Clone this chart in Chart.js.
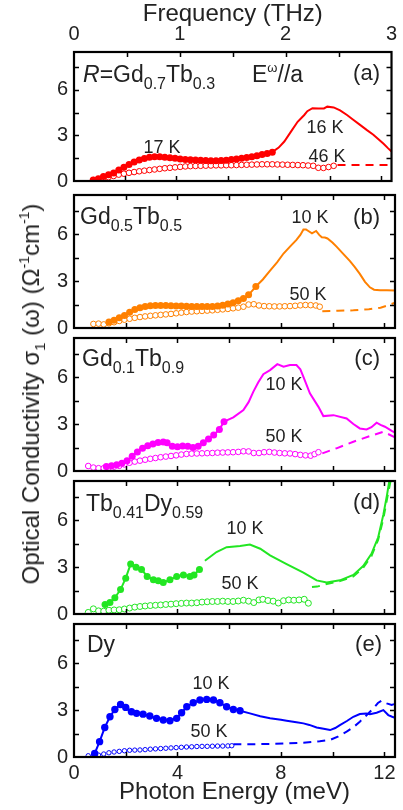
<!DOCTYPE html>
<html>
<head>
<meta charset="utf-8">
<script src="https://cdn.jsdelivr.net/npm/chart.js@4.4.0/dist/chart.umd.min.js"></script>
<style>
body { margin: 0; background: #fff; width: 403px; height: 810px; overflow: hidden; position: relative; font-family: "Liberation Sans", Arial, sans-serif; color: #222; }
canvas { position: absolute; left: 0; }
.lbl { position: absolute; white-space: nowrap; line-height: 1; }
.sb { font-size: 16px; position: relative; top: 7px; }
.k { font-size: 18px; transform: translateX(-50%); }
.tag { font-size: 22px; }
</style>
</head>
<body>
<canvas id="ca" width="403" height="199" style="top:0px"></canvas>
<canvas id="cb" width="403" height="173" style="top:175px"></canvas>
<canvas id="cc" width="403" height="173" style="top:318px"></canvas>
<canvas id="cd" width="403" height="173" style="top:461px"></canvas>
<canvas id="ce" width="403" height="206" style="top:604px"></canvas>

<div class="lbl" id="ytitle" style="font-size:24px;left:31px;top:394px;transform:translate(-50%,-50%) rotate(-90deg)">Optical Conductivity σ<span style="font-size:15px;position:relative;top:6px">1</span> (ω) (Ω<span style="font-size:14px;position:relative;top:-10px">-1</span>cm<span style="font-size:14px;position:relative;top:-10px">-1</span>)</div>

<div class="lbl tag" style="left:83px;top:63px;font-size:23px"><i>R</i>=Gd<span class="sb">0.7</span>Tb<span class="sb">0.3</span></div>
<div class="lbl tag" style="left:252px;top:63px;font-size:23px">E<span style="font-size:13px;position:relative;top:-10px">ω</span>//a</div>
<div class="lbl tag" style="right:23px;top:62px">(a)</div>
<div class="lbl k" style="left:162px;top:138px">17 K</div>
<div class="lbl k" style="left:325px;top:118px">16 K</div>
<div class="lbl k" style="left:327px;top:147px">46 K</div>

<div class="lbl tag" style="left:80px;top:205px;font-size:23px">Gd<span class="sb">0.5</span>Tb<span class="sb">0.5</span></div>
<div class="lbl tag" style="right:23px;top:206px">(b)</div>
<div class="lbl k" style="left:310px;top:208px">10 K</div>
<div class="lbl k" style="left:308px;top:285px">50 K</div>

<div class="lbl tag" style="left:82px;top:347px;font-size:23px">Gd<span class="sb">0.1</span>Tb<span class="sb">0.9</span></div>
<div class="lbl tag" style="right:23px;top:347px">(c)</div>
<div class="lbl k" style="left:284px;top:375px">10 K</div>
<div class="lbl k" style="left:284px;top:427px">50 K</div>

<div class="lbl tag" style="left:86px;top:492px;font-size:23px">Tb<span class="sb">0.41</span>Dy<span class="sb">0.59</span></div>
<div class="lbl tag" style="right:23px;top:491px">(d)</div>
<div class="lbl k" style="left:245px;top:519px">10 K</div>
<div class="lbl k" style="left:240px;top:574px">50 K</div>

<div class="lbl tag" style="left:87px;top:633px;font-size:23px">Dy</div>
<div class="lbl tag" style="right:21px;top:633px">(e)</div>
<div class="lbl k" style="left:211px;top:674px">10 K</div>
<div class="lbl k" style="left:209px;top:722px">50 K</div>

<script>
const FONT = '"Liberation Sans", Arial, sans-serif';
const INK = '#222';
const xMax = 12.41;        // meV, = 3 THz
const meVperTHz = 4.1357;
const yMax = 8.5;
const xTicks = [0, 4, 8, 12];
const thzTicks = [0, 1, 2, 3];
const yTicks = [0, 3, 6];
const xMarks = [2, 4, 6, 8, 10, 12];
const yMarks = [1.5, 3, 4.5, 6, 7.5];

// (a) R = Gd0.7Tb0.3
const a17K = [[0.75,0.06],[0.95,0.15],[1.15,0.3],[1.35,0.42],[1.55,0.52],[1.75,0.72],[1.95,0.9],[2.15,1.08],[2.35,1.25],[2.55,1.38],[2.75,1.48],[2.95,1.56],[3.15,1.6],[3.35,1.6],[3.55,1.57],[3.75,1.54],[3.95,1.5],[4.15,1.45],[4.35,1.42],[4.55,1.4],[4.75,1.38],[4.95,1.36],[5.15,1.35],[5.35,1.34],[5.55,1.34],[5.75,1.35],[5.95,1.37],[6.15,1.41],[6.35,1.45],[6.55,1.5],[6.75,1.55],[6.95,1.6],[7.15,1.66],[7.35,1.74],[7.55,1.82],[7.75,1.9]];
const a16K = [[7.75,1.9],[8.0,2.2],[8.22,2.6],[8.5,3.3],[8.74,3.9],[9.0,4.35],[9.12,4.6],[9.32,4.8],[9.55,4.78],[9.77,4.78],[9.9,4.9],[10.15,4.85],[10.4,4.65],[10.67,4.35],[10.9,4.05],[11.18,3.7],[11.45,3.35],[11.7,3.05],[11.9,2.75],[12.1,2.45],[12.28,2.15],[12.41,1.95]];
const a46K = [[0.75,0.06],[0.95,0.1],[1.15,0.17],[1.35,0.25],[1.55,0.33],[1.75,0.42],[1.95,0.48],[2.15,0.54],[2.35,0.59],[2.55,0.64],[2.75,0.68],[2.95,0.72],[3.15,0.76],[3.35,0.8],[3.55,0.84],[3.75,0.87],[3.95,0.9],[4.15,0.93],[4.35,0.96],[4.55,0.98],[4.75,0.99],[4.95,1.0],[5.15,1.01],[5.35,1.02],[5.55,1.03],[5.75,1.03],[5.95,1.04],[6.15,1.04],[6.35,1.05],[6.55,1.06],[6.75,1.07],[6.95,1.08],[7.15,1.09],[7.35,1.1],[7.55,1.1],[7.75,1.1],[7.95,1.09],[8.15,1.08],[8.35,1.07],[8.55,1.06],[8.75,1.05],[8.95,1.04],[9.15,1.02],[9.35,1.0],[9.55,0.87],[9.75,0.86],[9.95,0.92],[10.15,1.0]];
const a46Kdash = [[10.3,1.05],[12.41,1.05]];

// (b) Gd0.5Tb0.5
const b10K = [[1.35,0.38],[1.55,0.5],[1.75,0.65],[1.95,0.8],[2.15,1.0],[2.35,1.18],[2.55,1.3],[2.75,1.38],[2.95,1.42],[3.15,1.44],[3.35,1.44],[3.55,1.43],[3.75,1.42],[3.95,1.41],[4.15,1.4],[4.35,1.39],[4.55,1.38],[4.75,1.37],[4.95,1.37],[5.15,1.37],[5.35,1.38],[5.55,1.41],[5.75,1.46],[5.95,1.53],[6.15,1.62],[6.35,1.74],[6.55,1.88],[6.75,2.12],[7.03,2.65]];
const b10Kline = [[7.03,2.65],[7.3,3.1],[7.58,3.67],[7.85,4.2],[8.1,4.76],[8.35,5.2],[8.6,5.63],[8.75,5.95],[8.87,6.3],[8.97,6.3],[9.06,6.2],[9.2,6.05],[9.36,6.2],[9.48,5.95],[9.58,5.8],[9.7,5.78],[9.8,5.72],[10.0,5.45],[10.15,5.2],[10.4,4.75],[10.67,4.28],[10.85,3.9],[11.05,3.46],[11.25,2.95],[11.44,2.6],[11.6,2.45],[11.83,2.42],[12.1,2.42],[12.41,2.4]];
const b50K = [[0.75,0.26],[0.95,0.28],[1.15,0.23],[1.35,0.3],[1.55,0.37],[1.75,0.45],[1.95,0.53],[2.15,0.59],[2.35,0.65],[2.55,0.7],[2.75,0.74],[2.95,0.78],[3.15,0.81],[3.35,0.84],[3.55,0.87],[3.75,0.9],[3.95,0.94],[4.15,0.98],[4.35,1.02],[4.55,1.05],[4.75,1.07],[4.95,1.09],[5.15,1.11],[5.35,1.13],[5.55,1.16],[5.75,1.19],[5.95,1.22],[6.15,1.26],[6.35,1.3],[6.55,1.36],[6.75,1.5],[6.95,1.52],[7.15,1.44],[7.35,1.4],[7.55,1.39],[7.75,1.38],[7.95,1.38],[8.15,1.39],[8.35,1.4],[8.55,1.42],[8.75,1.45],[8.95,1.47],[9.15,1.46],[9.35,1.44],[9.5,1.36]];
const b50Kdash = [[9.6,1.07],[10.2,1.1],[10.8,1.13],[11.4,1.2],[11.85,1.3],[12.15,1.45],[12.41,1.62]];

// (c) Gd0.1Tb0.9
const c10K = [[1.25,0.28],[1.45,0.33],[1.65,0.4],[1.85,0.5],[2.05,0.66],[2.25,0.95],[2.45,1.22],[2.65,1.45],[2.85,1.62],[3.05,1.72],[3.25,1.82],[3.45,1.86],[3.6,1.8],[3.8,1.58],[4.0,1.55],[4.2,1.6],[4.4,1.58],[4.6,1.5],[4.8,1.58],[5.0,1.8],[5.2,2.05],[5.4,2.3],[5.62,2.66],[5.8,3.15]];
const c10Kline = [[5.8,3.15],[6.16,3.43],[6.55,3.9],[6.75,4.4],[6.93,5.06],[7.12,5.65],[7.32,6.19],[7.58,6.45],[7.86,6.83],[8.1,6.66],[8.35,6.77],[8.6,6.77],[8.75,6.5],[8.87,6.02],[9.12,4.96],[9.45,4.1],[9.64,3.51],[10.03,3.57],[10.54,3.36],[10.8,3.0],[11.05,2.72],[11.31,2.66],[11.5,2.8],[11.7,3.09],[11.85,2.95],[12.02,2.83],[12.3,2.55],[12.41,2.45]];
const c50K = [[0.55,0.32],[0.75,0.22],[0.95,0.18],[1.15,0.18],[1.35,0.22],[1.55,0.28],[1.75,0.33],[1.95,0.42],[2.15,0.53],[2.35,0.6],[2.55,0.66],[2.75,0.72],[2.95,0.78],[3.15,0.83],[3.35,0.88],[3.55,0.92],[3.75,0.96],[3.95,1.0],[4.15,1.05],[4.35,1.09],[4.55,1.11],[4.75,1.12],[4.95,1.13],[5.15,1.14],[5.35,1.15],[5.55,1.17],[5.75,1.18],[5.95,1.19],[6.15,1.2],[6.35,1.22],[6.55,1.26],[6.75,1.25],[6.95,1.15],[7.15,1.15],[7.35,1.2],[7.55,1.22],[7.75,1.18],[7.95,1.15],[8.15,1.13],[8.35,1.12],[8.55,1.08],[8.75,1.03],[8.95,1.0],[9.15,0.98],[9.3,1.08],[9.45,1.2]];
const c50Kdash = [[9.6,1.13],[10.15,1.45],[10.8,1.87],[11.44,2.23],[11.96,2.51],[12.41,2.15]];

// (d) Tb0.41Dy0.59
const d10K = [[1.2,0.6],[1.39,0.73],[1.58,1.04],[1.8,1.56],[2.0,2.29],[2.19,3.19],[2.4,2.98],[2.61,2.85],[2.83,2.4],[3.07,2.19],[3.26,2.13],[3.45,2.02],[3.71,2.19],[3.97,2.4],[4.23,2.5],[4.48,2.4],[4.64,2.5],[4.85,2.85]];
const d10Kline = [[5.06,3.4],[5.51,3.96],[5.9,4.27],[6.42,4.35],[6.8,4.44],[7.2,4.17],[7.58,3.75],[8.22,3.19],[8.87,2.65],[9.38,2.15],[9.77,2.02],[10.28,2.15],[10.8,2.5],[11.18,3.06],[11.5,3.85],[11.76,4.9],[11.96,6.35],[12.1,7.6],[12.2,8.6],[12.3,9.5]];
const d50K = [[0.55,0.1],[0.75,0.33],[0.95,0.2],[1.15,0.18],[1.35,0.24],[1.55,0.26],[1.75,0.27],[1.95,0.32],[2.15,0.38],[2.35,0.44],[2.55,0.48],[2.75,0.51],[2.95,0.54],[3.15,0.56],[3.35,0.58],[3.55,0.61],[3.75,0.63],[3.95,0.66],[4.15,0.68],[4.35,0.7],[4.55,0.7],[4.75,0.72],[4.95,0.76],[5.15,0.78],[5.35,0.8],[5.55,0.8],[5.75,0.82],[5.95,0.8],[6.15,0.8],[6.35,0.83],[6.55,0.88],[6.75,0.82],[6.95,0.73],[7.15,0.9],[7.3,0.94],[7.5,0.86],[7.7,0.82],[7.9,0.7],[8.1,0.85],[8.3,0.9],[8.5,0.88],[8.7,0.9],[8.9,0.94],[9.06,0.69]];
const d50Kdash = [[9.2,1.72],[9.4,1.75],[9.77,1.92],[10.28,2.1],[10.8,2.4],[11.18,2.95],[11.5,3.7],[11.76,4.75],[11.96,6.1],[12.12,7.5],[12.25,8.6],[12.35,9.5]];

// (e) Dy
const e10K = [[0.8,0.23],[0.99,0.98],[1.19,1.89],[1.39,2.57],[1.58,3.04],[1.8,3.36],[2.0,3.17],[2.22,2.89],[2.42,2.79],[2.67,2.74],[2.93,2.62],[3.19,2.47],[3.45,2.36],[3.71,2.32],[3.97,2.47],[4.16,2.83],[4.36,3.21],[4.61,3.47],[4.87,3.64],[5.13,3.68],[5.39,3.64],[5.64,3.47],[5.9,3.21],[6.16,3.04],[6.42,2.96]];
const e10Kline = [[6.42,2.96],[6.8,2.79],[7.2,2.6],[7.58,2.47],[8.0,2.38],[8.22,2.32],[8.6,2.22],[8.87,2.15],[9.1,2.05],[9.38,1.89],[9.65,1.8],[9.9,1.72],[10.1,1.85],[10.28,2.04],[10.55,2.3],[10.8,2.57],[11.05,2.75],[11.3,2.78],[11.44,2.74],[11.7,2.83],[11.96,3.0],[12.15,2.68],[12.3,2.57],[12.41,2.5]];
const e50K = [[0.55,0.08],[0.75,0.09],[0.95,0.12],[1.15,0.19],[1.35,0.27],[1.55,0.32],[1.75,0.36],[1.95,0.4],[2.15,0.43],[2.35,0.44],[2.55,0.45],[2.75,0.47],[2.95,0.5],[3.15,0.52],[3.35,0.54],[3.55,0.56],[3.75,0.58],[3.95,0.6],[4.15,0.62],[4.35,0.64],[4.55,0.65],[4.75,0.67],[4.95,0.68],[5.15,0.68],[5.35,0.69],[5.55,0.7],[5.75,0.7],[5.95,0.71],[6.1,0.72]];
const e50Kdash = [[6.16,0.81],[7.0,0.82],[7.58,0.83],[8.3,0.87],[8.87,0.91],[9.5,1.0],[9.9,1.09],[10.2,1.3],[10.54,1.62],[10.8,1.9],[11.05,2.26],[11.3,2.65],[11.57,3.1],[11.75,3.45],[11.89,3.6],[12.09,3.43],[12.28,3.32],[12.41,3.4]];

const RED = 'rgb(255,0,0)';
const ORANGE = 'rgb(255,128,0)';
const MAGENTA = 'rgb(255,0,255)';
const GREEN = 'rgb(34,230,34)';
const BLUE = 'rgb(0,0,255)';

const pts = arr => arr.map(([x, y]) => ({x, y}));

function filled(arr, color, r) {
  return { data: pts(arr), xAxisID: 'x', showLine: true, borderColor: color, backgroundColor: color,
    borderWidth: 2, pointRadius: r || 3.5, pointBorderWidth: 0, pointBackgroundColor: color };
}
function open(arr, color, r) {
  return { data: pts(arr), xAxisID: 'x', showLine: false, borderColor: color, backgroundColor: '#fff',
    pointRadius: r || 2.8, pointBorderWidth: 1 };
}
function solid(arr, color) {
  return { data: pts(arr), xAxisID: 'x', showLine: true, borderColor: color, borderWidth: 2, pointRadius: 0 };
}
function dashed(arr, color) {
  return { data: pts(arr), xAxisID: 'x', showLine: true, borderColor: color, borderWidth: 2, pointRadius: 0, borderDash: [8, 6] };
}

// frame with inward ticks on all four sides
const framePlugin = {
  id: 'frame',
  afterDatasetsDraw(chart) {
    const { ctx, chartArea: a, scales } = chart;
    ctx.save();
    ctx.strokeStyle = '#000';
    ctx.lineWidth = 1.5;
    ctx.beginPath();
    xMarks.forEach(v => {
      const p = Math.round(scales.x.getPixelForValue(v)) + 0.5;
      ctx.moveTo(p, a.bottom); ctx.lineTo(p, a.bottom - 5);
      if (!scales.x2) { ctx.moveTo(p, a.top); ctx.lineTo(p, a.top + 5); }
    });
    if (scales.x2) {
      [0.5, 1, 1.5, 2, 2.5].forEach(v => {
        const p = Math.round(scales.x2.getPixelForValue(v)) + 0.5;
        ctx.moveTo(p, a.top); ctx.lineTo(p, a.top + 5);
      });
    }
    yMarks.forEach(v => {
      const p = Math.round(scales.y.getPixelForValue(v)) + 0.5;
      ctx.moveTo(a.left, p); ctx.lineTo(a.left + 5, p);
      ctx.moveTo(a.right, p); ctx.lineTo(a.right - 5, p);
    });
    ctx.stroke();
    ctx.lineWidth = 2.2;
    ctx.strokeRect(a.left, a.top, a.right - a.left, a.bottom - a.top);
    ctx.restore();
  }
};

function makePanel(id, datasets, opt) {
  const tickFont = { family: FONT, size: 20 };
  const scales = {
    x: { type: 'linear', min: 0, max: xMax, display: false },
    y: {
      min: 0, max: yMax,
      afterFit: s => { s.width = 74; },
      afterBuildTicks: s => { s.ticks = yTicks.map(v => ({ value: v })); },
      grid: { display: false, drawTicks: false },
      border: { display: false },
      ticks: { font: tickFont, color: INK, padding: 6 }
    }
  };
  if (opt.top) {
    scales.x2 = {
      type: 'linear', position: 'top', min: 0, max: xMax / meVperTHz,
      afterFit: s => { s.height = 52; },
      afterBuildTicks: s => { s.ticks = thzTicks.map(v => ({ value: v })); },
      grid: { display: false, drawTicks: false },
      border: { display: false },
      ticks: { font: tickFont, color: INK, padding: 6, maxRotation: 0, autoSkip: false },
      title: { display: true, text: 'Frequency (THz)', font: { family: FONT, size: 24 }, color: INK, padding: { top: 0, bottom: 0 } }
    };
  }
  if (opt.bottom) {
    scales.x = {
      type: 'linear', min: 0, max: xMax, position: 'bottom',
      afterFit: s => { s.height = 53; },
      afterBuildTicks: s => { s.ticks = xTicks.map(v => ({ value: v })); },
      grid: { display: false, drawTicks: false },
      border: { display: false },
      ticks: { font: tickFont, color: INK, padding: 4, maxRotation: 0, autoSkip: false },
      title: { display: true, text: 'Photon Energy (meV)', font: { family: FONT, size: 24 }, color: INK, padding: { top: 0, bottom: 3 } }
    };
  }
  return new Chart(document.getElementById(id), {
    type: 'scatter',
    data: { datasets },
    options: {
      responsive: false,
      animation: false,
      layout: { padding: { left: 0, right: 8, top: opt.padTop, bottom: opt.padBottom } },
      plugins: { legend: { display: false }, tooltip: { enabled: false } },
      scales
    },
    plugins: [framePlugin]
  });
}

makePanel('ca', [filled(a17K, RED), solid(a16K, RED), open(a46K, RED), dashed(a46Kdash, RED)],
  { top: true, padTop: 0, padBottom: 14 });
makePanel('cb', [filled(b10K, ORANGE), solid(b10Kline, ORANGE), open(b50K, ORANGE), dashed(b50Kdash, ORANGE)],
  { padTop: 20, padBottom: 20 });
makePanel('cc', [filled(c10K, MAGENTA), solid(c10Kline, MAGENTA), open(c50K, MAGENTA), dashed(c50Kdash, MAGENTA)],
  { padTop: 20, padBottom: 20 });
makePanel('cd', [filled(d10K, GREEN), solid(d10Kline, GREEN), open(d50K, GREEN, 3), dashed(d50Kdash, GREEN)],
  { padTop: 20, padBottom: 20 });
makePanel('ce', [filled(e10K, BLUE, 3.7), solid(e10Kline, BLUE), open(e50K, BLUE, 2.2), dashed(e50Kdash, BLUE)],
  { bottom: true, padTop: 20, padBottom: 0 });
</script>
</body>
</html>
